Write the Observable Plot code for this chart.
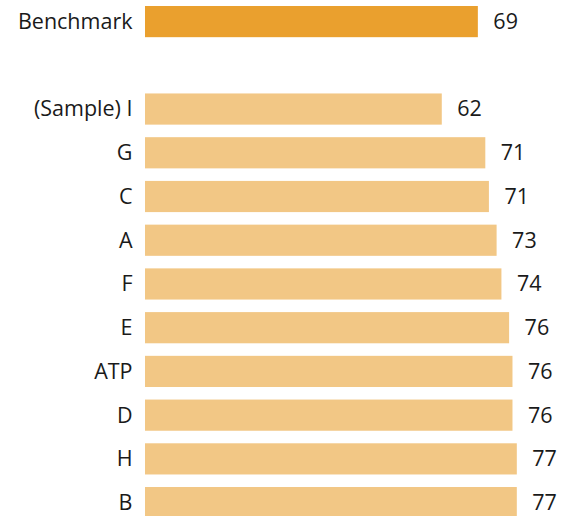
<!DOCTYPE html>
<html>
<head>
<meta charset="utf-8">
<script src="https://cdn.jsdelivr.net/npm/d3@7"></script>
<script src="https://cdn.jsdelivr.net/npm/@observablehq/plot@0.6"></script>
<style>
  html, body { margin: 0; padding: 0; background: #fff; overflow: hidden; }
</style>
</head>
<body>
<div id="chart"></div>
<script>
const categories = ["Benchmark", "", "(Sample) I", "G", "C", "A", "F", "E", "ATP", "D", "H", "B"];
const names = ["Benchmark", "(Sample) I", "G", "C", "A", "F", "E", "ATP", "D", "H", "B"];
const values = [69.2, 61.7, 70.75, 71.5, 73.1, 74.1, 75.7, 76.4, 76.4, 77.3, 77.3];
const labels = ["69", "62", "71", "71", "73", "74", "76", "76", "76", "77", "77"];
const groups = ["benchmark", "sample", "sample", "sample", "sample", "sample", "sample", "sample", "sample", "sample", "sample"];

const data = names.map((n, i) => ({name: n, value: values[i], label: labels[i], group: groups[i]}));

const font = "'Open Sans', 'Liberation Sans', Arial, sans-serif";

const chart = Plot.plot({
  width: 564,
  height: 516,
  marginLeft: 145,
  marginRight: 34.2,
  marginTop: 0,
  marginBottom: 0,
  style: {fontFamily: font, background: "#fff", overflow: "visible"},
  x: {domain: [0, 80], axis: null},
  y: {domain: categories, range: [6, 518.2], paddingInner: 0.287, paddingOuter: 0, round: false, label: null},
  color: {domain: ["benchmark", "sample"], range: ["#EAA02E", "#F2C785"]},
  marks: [
    Plot.barX(data, {y: "name", x: "value", fill: "group"}),
    Plot.text(data, {y: "name", x: "value", text: "label", dx: 15, textAnchor: "start", fontSize: 21.5, fill: "#1a1a1a"}),
    Plot.axisY({tickSize: 0, tickPadding: 13, fontSize: 21.5, label: null, color: "#1a1a1a"})
  ]
});
document.getElementById("chart").appendChild(chart);
</script>
</body>
</html>
